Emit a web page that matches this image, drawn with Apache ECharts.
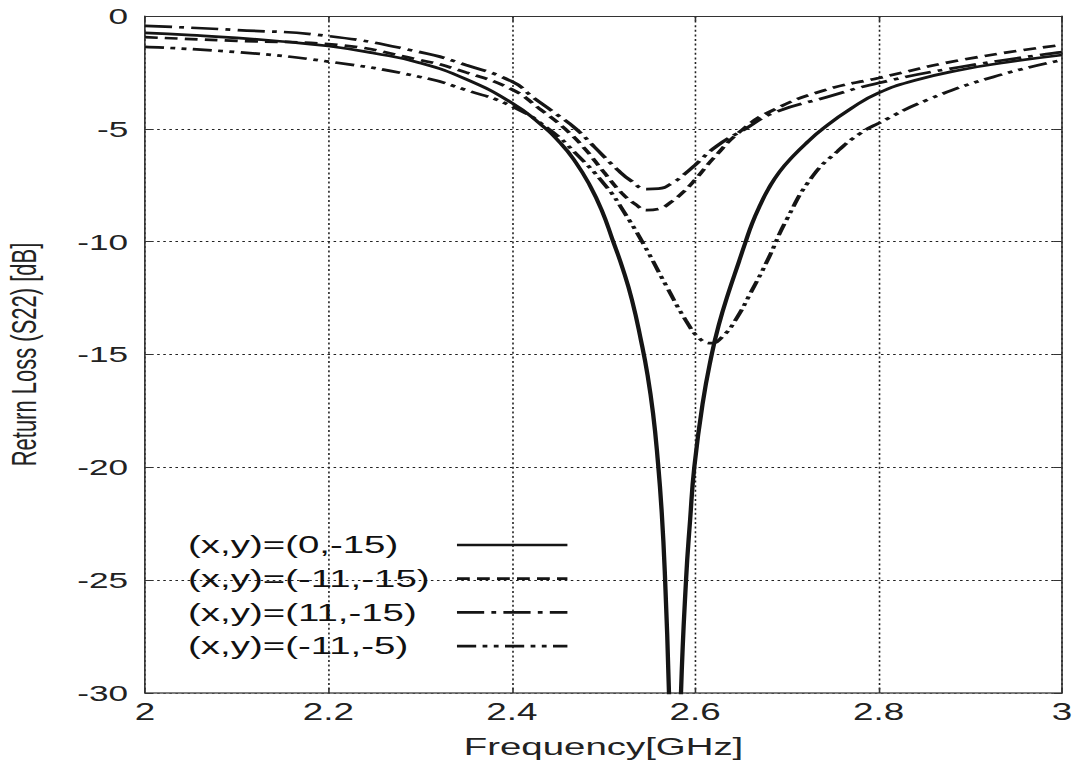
<!DOCTYPE html>
<html>
<head>
<meta charset="utf-8">
<script src="https://cdn.jsdelivr.net/npm/echarts@6/dist/echarts.min.js"></script>
<style>
  html, body { margin: 0; padding: 0; background: #fff; overflow: hidden; }
  #wrap { width: 1082px; height: 769px; overflow: hidden; }
  /* the reference figure is stretched horizontally (~1.6x); reproduce that */
  #chart { width: 676px; height: 769px; transform: scaleX(1.6006); transform-origin: 0 0; }
</style>
</head>
<body>
<div id="wrap"><div id="chart"></div></div>
<script>
// ---- data ----
const seriesNames = ['(x,y)=(0,-15)', '(x,y)=(-11,-15)', '(x,y)=(11,-15)', '(x,y)=(-11,-5)'];

const xTickValues = [2, 2.2, 2.4, 2.6, 2.8, 3];
const yTickValues = [-30, -25, -20, -15, -10, -5, 0];

// (0,-15) solid (minimum lies below the -30 dB axis limit)
const solidFreq = [2.00, 2.05, 2.10, 2.15, 2.20, 2.25, 2.30, 2.35, 2.40, 2.43, 2.453, 2.47, 2.485, 2.498, 2.51, 2.521, 2.531, 2.541, 2.548, 2.554, 2.559, 2.5635, 2.567, 2.5714, 2.578, 2.5845, 2.59, 2.5945, 2.599, 2.608, 2.618, 2.626, 2.636, 2.648, 2.655, 2.662, 2.67, 2.68, 2.692, 2.707, 2.722, 2.739, 2.77, 2.80, 2.84, 2.889, 2.94, 3.00];
const solidDb   = [-0.75, -0.85, -0.97, -1.13, -1.33, -1.65, -2.08, -2.8, -3.85, -4.75, -5.63, -6.5, -7.5, -8.6, -9.93, -11.2, -12.58, -14.4, -15.9, -17.6, -19.6, -22.0, -24.8, -30.0, -40.0, -30.0, -25.0, -22.3, -20.0, -17.2, -15.0, -13.65, -12.3, -10.85, -10.0, -9.2, -8.45, -7.65, -6.9, -6.2, -5.6, -5.0, -4.1, -3.41, -2.85, -2.39, -2.05, -1.73];

// (-11,-15) dashed
const dashFreq = [2.0, 2.1, 2.2, 2.3, 2.35, 2.4, 2.43, 2.458, 2.48, 2.5, 2.52, 2.535, 2.547, 2.56, 2.575, 2.587, 2.6, 2.62, 2.651, 2.685, 2.74, 2.8, 2.89, 3.0];
const dashDb   = [-0.94, -1.1, -1.25, -1.95, -2.5, -3.25, -4.1, -5.0, -5.9, -6.9, -7.85, -8.35, -8.6, -8.55, -8.2, -7.8, -7.25, -6.3, -5.05, -4.17, -3.3, -2.75, -1.95, -1.28];

// (11,-15) dash-dot
const dashDotFreq = [2.0, 2.1, 2.2, 2.3, 2.35, 2.4, 2.423, 2.447, 2.47, 2.49, 2.515, 2.53, 2.547, 2.56, 2.575, 2.587, 2.6, 2.624, 2.656, 2.685, 2.743, 2.8, 2.889, 3.0];
const dashDotDb   = [-0.44, -0.62, -0.89, -1.6, -2.17, -2.9, -3.6, -4.3, -5.0, -5.8, -6.8, -7.3, -7.67, -7.65, -7.4, -7.05, -6.6, -5.75, -4.97, -4.3, -3.6, -2.97, -2.26, -1.6];

// (-11,-5) dash-dot-dot
const dashDotDotFreq = [2.0, 2.1, 2.2, 2.3, 2.35, 2.4, 2.44, 2.47, 2.504, 2.521, 2.543, 2.569, 2.59, 2.605, 2.617, 2.63, 2.645, 2.66, 2.678, 2.7, 2.728, 2.755, 2.78, 2.8, 2.853, 2.925, 3.0];
const dashDotDotDb   = [-1.37, -1.6, -2.02, -2.7, -3.28, -4.0, -5.0, -6.1, -7.6, -8.6, -10.06, -12.0, -13.5, -14.3, -14.5, -14.2, -13.4, -12.3, -10.9, -9.0, -7.1, -6.0, -5.2, -4.75, -3.72, -2.7, -1.95];

// ---- chart ----
const FONT = '"Liberation Sans", Arial, Helvetica, sans-serif';
const zip = (a, b) => a.map((v, i) => [v, b[i]]);

const lineTypes = ['solid', [8, 4.5], [17, 4.5, 3, 4.5], [12, 4, 3, 4, 3, 4]];
const dataSets = [
  zip(solidFreq, solidDb),
  zip(dashFreq, dashDb),
  zip(dashDotFreq, dashDotDb),
  zip(dashDotDotFreq, dashDotDotDb)
];

const chart = echarts.init(document.getElementById('chart'), null, { renderer: 'svg' });

const baseX = {
  type: 'value', min: xTickValues[0], max: xTickValues[xTickValues.length - 1], interval: 0.2
};
const baseY = {
  type: 'value', min: yTickValues[0], max: yTickValues[yTickValues.length - 1], interval: 5
};

chart.setOption({
  backgroundColor: '#fff',
  animation: false,
  grid: { left: 90.6, right: 12.5, top: 16, bottom: 76, containLabel: false, outerBoundsMode: 'none' },
  legend: {
    data: seriesNames,
    orient: 'vertical',
    align: 'right',
    left: 117.5,
    top: 533,
    padding: 0,
    itemWidth: 69,
    itemHeight: 14,
    itemGap: 9.7,
    lineStyle: { width: 2.7 },
    itemStyle: { color: 'rgba(0,0,0,0)', borderColor: 'rgba(0,0,0,0)', borderWidth: 0 },
    formatter: '{t|{name}}',
    textStyle: {
      color: '#111',
      rich: { t: { width: 163, align: 'left', fontSize: 24, lineHeight: 24, fontFamily: FONT, color: '#111' } }
    },
    selectedMode: false
  },
  xAxis: [
    Object.assign({}, baseX, {
      position: 'bottom',
      name: 'Frequency[GHz]',
      nameLocation: 'middle',
      nameGap: 42,
      nameTextStyle: { fontSize: 24, fontFamily: FONT, color: '#222' },
      axisLine: { show: true, onZero: false, lineStyle: { color: '#555', width: 1.5 } },
      axisTick: { show: true, inside: true, length: 5, lineStyle: { color: '#333' } },
      axisLabel: { show: true, margin: 8, fontSize: 23, fontFamily: FONT, color: '#222' },
      splitLine: { show: true, lineStyle: { color: '#222', width: 1, type: [2, 2.6] } }
    }),
    Object.assign({}, baseX, {
      position: 'top',
      axisLine: { show: true, onZero: false, lineStyle: { color: '#333', width: 1 } },
      axisTick: { show: true, inside: true, length: 5, lineStyle: { color: '#333' } },
      axisLabel: { show: false },
      splitLine: { show: false }
    })
  ],
  yAxis: [
    Object.assign({}, baseY, {
      position: 'left',
      name: 'Return Loss (S22) [dB]',
      nameLocation: 'middle',
      nameGap: 65,
      nameRotate: 90,
      nameTextStyle: { fontSize: 22, fontFamily: FONT, color: '#222' },
      axisLine: { show: true, onZero: false, lineStyle: { color: '#333', width: 1 } },
      axisTick: { show: true, inside: true, length: 5, lineStyle: { color: '#333' } },
      axisLabel: { show: true, margin: 10.5, fontSize: 22, fontFamily: FONT, color: '#222' },
      splitLine: { show: true, lineStyle: { color: '#222', width: 1, type: [1.6, 2.2] } }
    }),
    Object.assign({}, baseY, {
      position: 'right',
      axisLine: { show: true, onZero: false, lineStyle: { color: '#333', width: 1 } },
      axisTick: { show: true, inside: true, length: 5, lineStyle: { color: '#333' } },
      axisLabel: { show: false },
      splitLine: { show: false }
    })
  ],
  series: seriesNames.map((name, i) => ({
    name: name,
    type: 'line',
    xAxisIndex: 0,
    yAxisIndex: 0,
    data: dataSets[i],
    symbol: 'none',
    showSymbol: false,
    smooth: 0.5,
    clip: true,
    itemStyle: { color: 'rgba(0,0,0,0)' },
    lineStyle: { color: '#151515', width: 2.7, type: lineTypes[i] }
  }))
});
</script>
</body>
</html>
